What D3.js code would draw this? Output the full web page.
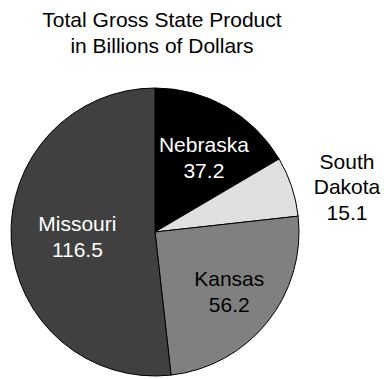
<!DOCTYPE html>
<html>
<head>
<meta charset="utf-8">
<script src="https://cdn.jsdelivr.net/npm/d3@7"></script>
<style>
	body { margin: 0; background: #fff; }
	svg text { font-family: "Liberation Sans", Arial, sans-serif; }
</style>
</head>
<body>
<svg id="chart" width="384" height="379"></svg>
<script>
// data
const states = ["Nebraska", "South Dakota", "Kansas", "Missouri"];
const gsp = [37.2, 15.1, 56.2, 116.5];
const fills = ["#000000", "#e0e0e0", "#808080", "#404040"];
const textColors = ["#ffffff", "#000000", "#000000", "#ffffff"];
const titleLines = ["Total Gross State Product", "in Billions of Dollars"];

var svg = d3.select("#chart");
const width = 384,
	cx = 155,
	cy = 232,
	radius = 144,
	fontSize = 21;

// title
var title = svg.append("text")
	.attr("text-anchor", "middle")
	.attr("font-size", fontSize)
	.attr("fill", "#000");
titleLines.forEach(function(t, i){
	title.append("tspan")
		.attr("x", 162)
		.attr("y", 27 + i * 26)
		.text(t);
});

var slices = d3.pie().sort(null).value(d => d.value)(
	states.map((s, i) => ({name: s, value: gsp[i], fill: fills[i], color: textColors[i]}))
);

var arc = d3.arc().innerRadius(0).outerRadius(radius);

var g = svg.append("g").attr("transform", "translate(" + cx + "," + cy + ")");

g.selectAll("path")
	.data(slices)
	.enter().append("path")
	.attr("d", arc)
	.attr("fill", d => d.data.fill)
	.attr("stroke", "#000")
	.attr("stroke-width", 1);

// how far out each label sits, as a fraction of the radius
const labelRadius = {"Nebraska": 0.62, "South Dakota": 1.37, "Kansas": 0.66, "Missouri": 0.54};
const labelTurn = {"Nebraska": 0.06, "South Dakota": 0.09, "Kansas": 0.0, "Missouri": 0.0};

slices.forEach(function(d){
	let a = (d.startAngle + d.endAngle) / 2 + labelTurn[d.data.name];
	let r = radius * labelRadius[d.data.name];
	let x = r * Math.sin(a), y = -r * Math.cos(a);
	let lines = d.data.name.split(" ").concat([d.data.value.toFixed(1)]);
	let lh = 25.5;
	let t = g.append("text")
		.attr("text-anchor", "middle")
		.attr("font-size", fontSize)
		.attr("fill", d.data.color);
	lines.forEach(function(l, i){
		t.append("tspan")
			.attr("x", x)
			.attr("y", y + (i - (lines.length - 1) / 2) * lh + 7.5)
			.text(l);
	});
});
</script>
</body>
</html>
